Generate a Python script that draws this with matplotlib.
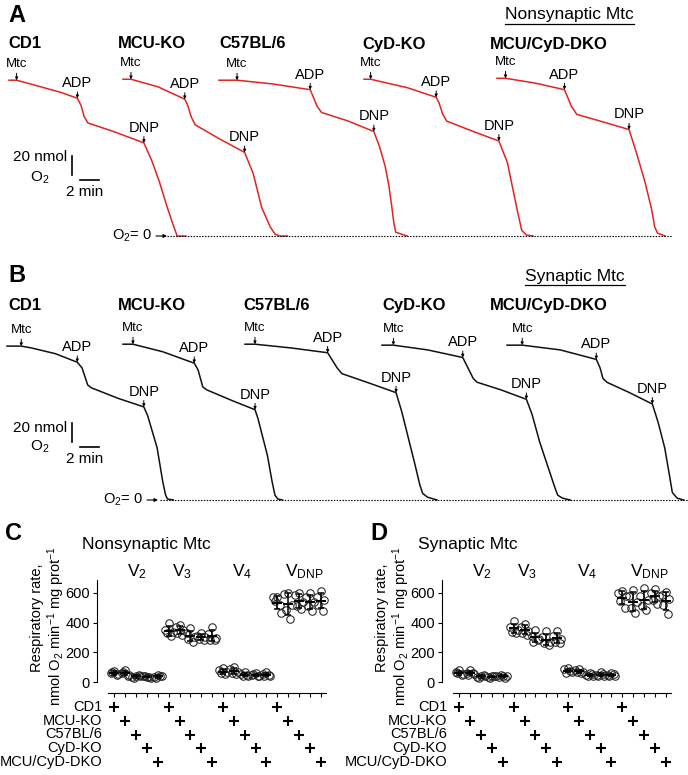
import numpy as np
import matplotlib
matplotlib.use('Agg')
import matplotlib.pyplot as plt
from matplotlib.transforms import blended_transform_factory

plt.rcParams['font.family'] = ['Liberation Sans', 'DejaVu Sans']
plt.rcParams['mathtext.fontset'] = 'custom'
plt.rcParams['mathtext.rm'] = 'Liberation Sans'
plt.rcParams['mathtext.it'] = 'Liberation Sans:italic'
plt.rcParams['mathtext.bf'] = 'Liberation Sans:bold'

W, H, DPI = 688, 775, 100
fig = plt.figure(figsize=(W / DPI, H / DPI), dpi=DPI)

# ---------------- data ----------------
genotypes = ['CD1', 'MCU-KO', 'C57BL/6', 'CyD-KO', 'MCU/CyD-DKO']
rate_labels = ['V$_2$', 'V$_3$', 'V$_4$', 'V$_{\\mathrm{DNP}}$']

# Oxygen traces: time (min from trace start), O2 (nmol)
A_CD1_t = [0, 0.8, 3.0, 5.5, 7.2, 7.6, 7.9, 8.3, 11.0, 14.2, 15.0, 15.8, 16.6, 17.2, 17.7, 18.6]
A_CD1_o = [164, 164, 158, 151, 145, 137, 126, 119, 110, 98, 80, 58, 32, 14, 0, 0]
A_MCU_t = [0, 0.84, 3.7, 6.5, 6.8, 7.2, 7.6, 10.2, 12.8, 13.7, 14.6, 15.5, 16.0, 16.5, 17.3]
A_MCU_o = [165, 165, 157, 144, 138, 125, 117, 102, 88, 66, 30, 9.5, 2, 0, 0]
A_C57_t = [0, 1.9, 5.7, 9.6, 9.9, 10.3, 10.8, 13.6, 16.3, 16.9, 17.5, 17.9, 18.2, 18.4, 18.6, 19.8]
A_C57_o = [164, 164, 160, 154, 147, 137, 130, 121, 110, 94, 73, 52, 30, 14, 4, 0]
A_CyD_t = [0, 0.7, 4.6, 7.6, 7.9, 8.3, 8.7, 11.5, 14.2, 15.1, 15.7, 16.2, 16.6, 17.1, 17.8]
A_CyD_o = [165, 165, 156, 146, 140, 128, 121, 110, 100, 77, 48, 24, 6, 1, 0]
A_DKO_t = [0, 0.9, 4.0, 7.1, 7.4, 7.8, 8.4, 11.2, 13.9, 14.7, 15.6, 16.3, 16.6, 16.9, 17.7]
A_DKO_o = [166, 166, 161, 154, 147, 137, 128, 120, 112, 87, 56, 27, 9.5, 3, 0]

B_CD1_t = [0, 1.5, 2.6, 5.1, 7.4, 7.9, 8.5, 8.9, 11.7, 14.4, 14.8, 15.8, 16.4, 16.7, 16.9, 17.5]
B_CD1_o = [162, 162, 160, 154, 145, 139, 121, 118, 107, 98, 89, 55, 19, 5, 1, 0]
B_MCU_t = [0, 1.05, 4.2, 7.5, 7.9, 8.4, 8.8, 11.4, 13.9, 14.2, 15.2, 15.7, 16.0, 16.3, 16.8]
B_MCU_o = [164, 164, 156, 144, 137, 119, 116, 105, 95, 86, 47, 19, 5, 1, 0]
B_C57_t = [0, 1.05, 4.9, 8.7, 9.2, 9.7, 10.2, 13.1, 15.9, 16.5, 17.2, 17.9, 18.4, 18.7, 19.2, 20.2]
B_C57_o = [164, 164, 160, 155, 147, 139, 133, 123, 113, 93, 65, 37, 16, 7, 3, 0]
B_CyD_t = [0, 1.2, 4.8, 8.5, 9.0, 9.6, 10.0, 12.5, 15.2, 15.8, 16.6, 17.5, 18.2, 18.5, 19.0, 19.8]
B_CyD_o = [163, 163, 158, 150, 140, 128, 124, 116, 106, 90, 61, 34, 13, 5, 2, 0]
B_DKO_t = [0, 1.6, 5.6, 9.4, 9.8, 10.1, 10.5, 12.9, 15.3, 15.9, 16.6, 17.1, 17.4, 17.9, 18.6]
B_DKO_o = [163, 163, 158, 148, 139, 128, 124, 113, 101, 82, 55, 26, 8, 2, 0]

# addition times (min from trace start)
A_mtc = [0.8, 0.84, 1.9, 0.7, 0.9]
A_adp = [7.2, 6.5, 9.6, 7.6, 7.1]
A_dnp = [14.2, 12.8, 16.3, 14.2, 13.9]
B_mtc = [1.5, 1.05, 1.05, 1.2, 1.6]
B_adp = [7.4, 7.5, 8.7, 8.5, 9.4]
B_dnp = [14.4, 13.9, 15.9, 15.2, 15.3]

# Respiratory rates (nmol O2/min/mg protein), per genotype
C_V2 = [[78, 62, 55, 68, 50], [80, 62, 50, 66, 45], [45, 35, 40, 30, 50], [36, 45, 30, 40, 38], [50, 34, 40, 30, 45]]
C_V3 = [[400, 352, 335, 330, 312], [382, 368, 350, 332, 318], [362, 330, 300, 288, 272],
        [332, 312, 300, 290, 280], [370, 322, 298, 282, 286]]
C_V4 = [[95, 80, 66, 60, 55], [100, 86, 70, 60, 54], [66, 55, 45, 40, 50], [60, 50, 44, 56, 40], [66, 55, 45, 40, 50]]
C_VDNP = [[568, 572, 462, 545, 520], [600, 588, 520, 482, 425], [600, 582, 540, 510, 490],
          [596, 570, 540, 510, 480], [610, 572, 550, 520, 476]]

D_V2 = [[85, 66, 55, 60, 50], [80, 65, 55, 50, 60], [45, 35, 40, 30, 50], [45, 35, 40, 30, 42], [45, 35, 40, 46, 30]]
D_V3 = [[410, 372, 350, 340, 330], [392, 370, 342, 330, 318], [350, 310, 290, 270, 280],
        [345, 300, 272, 260, 250], [342, 312, 290, 272, 262]]
D_V4 = [[95, 86, 70, 65, 76], [90, 80, 66, 70, 60], [60, 50, 40, 45, 55], [66, 50, 45, 40, 55], [60, 50, 40, 45, 55]]
D_VDNP = [[612, 595, 580, 545, 500], [620, 580, 540, 500, 462], [632, 580, 550, 510, 482],
          [622, 600, 580, 552, 522], [602, 582, 560, 520, 455]]

# ---------------- helpers ----------------
def fx(x):
    return x / W


def fy(y):
    return 1 - y / H


def ftext(x, y, s, **kw):
    kw.setdefault('fontsize', 10)
    return fig.text(fx(x), fy(y), s, **kw)


PX_MIN, PX_NMOL = 9.5, 0.95


def trace_axes(top, bottom, zero):
    ax = fig.add_axes([0, fy(bottom), 1, (bottom - top) / H])
    ax.set_xlim(0, W / PX_MIN)
    ax.set_ylim((zero - bottom) / PX_NMOL, (zero - top) / PX_NMOL)
    ax.axis('off')
    return ax


def draw_traces(ax, traces, starts, mtc, adp, dnp, color):
    for (t, o), s, m, a, d in zip(traces, starts, mtc, adp, dnp):
        tt = np.asarray(t) + s
        ax.plot(tt, o, color=color, lw=1.1, clip_on=False, solid_joinstyle='round')
        for ev, lab, fs, toff, alen in [(m, 'Mtc', 9.5, 9.4, 5.0),
                                        (a, 'ADP', 10.5, 8.0, 4.6),
                                        (d, 'DNP', 10.5, 8.0, 4.6)]:
            x = s + ev
            y = np.interp(x, tt, o)
            ax.annotate('', xy=(x, y), xytext=(0, alen), textcoords='offset points',
                        arrowprops=dict(arrowstyle='-|>', lw=0.7, color='k',
                                        mutation_scale=4, shrinkA=0, shrinkB=0))
            ax.annotate(lab, xy=(x, y), xytext=(0, toff), textcoords='offset points',
                        ha='center', va='baseline', fontsize=fs)


def zero_line(ax, zero, text_right, arr0, arr1, dot0, dot1, y_px):
    ax.plot([dot0 / PX_MIN, dot1 / PX_MIN], [0, 0], color='k', lw=0.8,
            ls=(0, (1.3, 1.3)), clip_on=False)
    ax.annotate('', xy=(arr1 / PX_MIN, 0), xytext=(arr0 / PX_MIN, 0),
                arrowprops=dict(arrowstyle='-|>', lw=0.8, color='k', mutation_scale=5,
                                shrinkA=0, shrinkB=0))
    ftext(text_right, y_px, 'O$_2$= 0', ha='right', va='center', fontsize=10.5)


def scale_bar(ax, zero, vx, vy0, vy1, hx0, hy):
    # vertical 20 nmol bar, horizontal 2 min bar
    x = vx / PX_MIN
    yb = (zero - vy1) / PX_NMOL
    ax.plot([x, x], [yb, yb + 20], color='k', lw=1.2)
    yh = (zero - hy) / PX_NMOL
    ax.plot([hx0 / PX_MIN, hx0 / PX_MIN + 2], [yh, yh], color='k', lw=1.2)


def underlined(x, y, s, fs):
    t = ftext(x, y, s, ha='left', va='center', fontsize=fs)
    fig.canvas.draw()
    bb = t.get_window_extent()
    fig.add_artist(plt.Line2D([bb.x0 / W, bb.x1 / W], [(bb.y0 - 1) / H, (bb.y0 - 1) / H],
                              color='k', lw=0.9, transform=fig.transFigure))


# ---------------- panel A ----------------
axA = trace_axes(0, 250, 236)
A_traces = [(A_CD1_t, A_CD1_o), (A_MCU_t, A_MCU_o), (A_C57_t, A_C57_o), (A_CyD_t, A_CyD_o), (A_DKO_t, A_DKO_o)]
A_starts = [9 / PX_MIN, 123 / PX_MIN, 219 / PX_MIN, 364 / PX_MIN, 497 / PX_MIN]
draw_traces(axA, A_traces, A_starts, A_mtc, A_adp, A_dnp, '#e3231f')
zero_line(axA, 236, 152, 156, 167, 167, 672, 236)
scale_bar(axA, 236, 72, 157, 175, 80, 180)
ftext(67, 157, '20 nmol', ha='right', va='center', fontsize=11)
ftext(40, 178, 'O$_2$', ha='center', va='center', fontsize=11)
ftext(85, 192, '2 min', ha='center', va='center', fontsize=11)
ftext(8, 15, 'A', ha='left', va='center', fontsize=17, fontweight='bold')
for name, x in zip(genotypes, [8, 118, 219, 362, 490]):
    ftext(x, 44, name, ha='left', va='center', fontsize=12, fontweight='bold')
underlined(505, 15, 'Nonsynaptic Mtc', 12.5)

# ---------------- panel B ----------------
axB = trace_axes(250, 520, 500)
B_traces = [(B_CD1_t, B_CD1_o), (B_MCU_t, B_MCU_o), (B_C57_t, B_C57_o), (B_CyD_t, B_CyD_o), (B_DKO_t, B_DKO_o)]
B_starts = [7 / PX_MIN, 123 / PX_MIN, 245 / PX_MIN, 382 / PX_MIN, 507 / PX_MIN]
draw_traces(axB, B_traces, B_starts, B_mtc, B_adp, B_dnp, '#111111')
zero_line(axB, 500, 143, 147, 158, 160, 688, 500)
scale_bar(axB, 500, 72, 423, 442, 80, 447)
ftext(67, 428, '20 nmol', ha='right', va='center', fontsize=11)
ftext(40, 447, 'O$_2$', ha='center', va='center', fontsize=11)
ftext(85, 459, '2 min', ha='center', va='center', fontsize=11)
ftext(8, 275, 'B', ha='left', va='center', fontsize=17, fontweight='bold')
for name, x in zip(genotypes, [8, 118, 243, 382, 490]):
    ftext(x, 306, name, ha='left', va='center', fontsize=12, fontweight='bold')
underlined(525, 276, 'Synaptic Mtc', 12.5)

# ---------------- panels C & D ----------------
JIT = [0.0, -0.35, 0.35, -0.2, 0.22]
ROW_Y = [707, 721, 734.5, 748, 762]
V_POS = [2.1, 6.2, 11.8, 17.5]


def scatter_panel(dx, conds, title, letter):
    ax = fig.add_axes([fx(97 + dx), fy(682.3), 233 / W, (682.3 - 580) / H])
    ax.set_xlim(-1.61, 19.86)
    ax.set_ylim(0, 685)
    for sp in ('top', 'right'):
        ax.spines[sp].set_visible(False)
    ax.spines['left'].set_linewidth(0.8)
    ax.spines['bottom'].set_linewidth(0.8)
    ax.spines['bottom'].set_position(('outward', 7.7))
    ax.spines['bottom'].set_bounds(-0.6, 19.5)
    ax.set_xticks(range(20))
    ax.set_xticklabels([])
    ax.set_yticks([0, 200, 400, 600])
    ax.tick_params(axis='x', length=3, width=0.8, direction='out')
    ax.tick_params(axis='y', length=3, width=0.8, direction='out', labelsize=10.5, pad=2)
    ax.patch.set_alpha(0)
    for ci, cond in enumerate(conds):
        for gi, vals in enumerate(cond):
            pos = ci * 5 + gi
            xs = pos + np.array(JIT[:len(vals)])
            ax.plot(xs, vals, 'o', mfc='none', mec='#222222', ms=5.4, mew=0.75, clip_on=False)
            m = np.mean(vals)
            sd = np.std(vals, ddof=1)
            ax.errorbar(pos, m, yerr=sd, fmt='none', ecolor='k', elinewidth=1.1,
                        capsize=2.2, capthick=1.1, clip_on=False)
            ax.plot(pos, m, marker='_', ms=7, mew=1.4, color='k', clip_on=False)
    trans = blended_transform_factory(ax.transData, fig.transFigure)
    for gi, name in enumerate(genotypes):
        ax.plot([ci * 5 + gi for ci in range(4)], [fy(ROW_Y[gi])] * 4, '+', color='k',
                ms=6.5, mew=1.5, transform=trans, clip_on=False)
        ftext(102 + dx, ROW_Y[gi], name, ha='right', va='center', fontsize=10.5)
    for vp, lab in zip(V_POS, rate_labels):
        ax.text(vp, fy(572), lab, transform=trans, ha='center', va='center', fontsize=12.5)
    ftext(37 + dx, 618, 'Respiratory rate,', rotation=90, ha='center', va='center', fontsize=10.5)
    ftext(56 + dx, 626, 'nmol O$_2$ min$^{-1}$ mg prot$^{-1}$', rotation=90, ha='center',
          va='center', fontsize=10.5)
    ftext(82 + dx if letter == 'C' else 73 + dx, 545, title, ha='left', va='center', fontsize=12.5)
    ftext(5 + dx + (20 if letter == 'D' else 0), 533, letter, ha='left', va='center',
          fontsize=17, fontweight='bold')
    return ax


scatter_panel(0, [C_V2, C_V3, C_V4, C_VDNP], 'Nonsynaptic Mtc', 'C')
scatter_panel(345, [D_V2, D_V3, D_V4, D_VDNP], 'Synaptic Mtc', 'D')

fig.savefig('out.png', dpi=DPI)
